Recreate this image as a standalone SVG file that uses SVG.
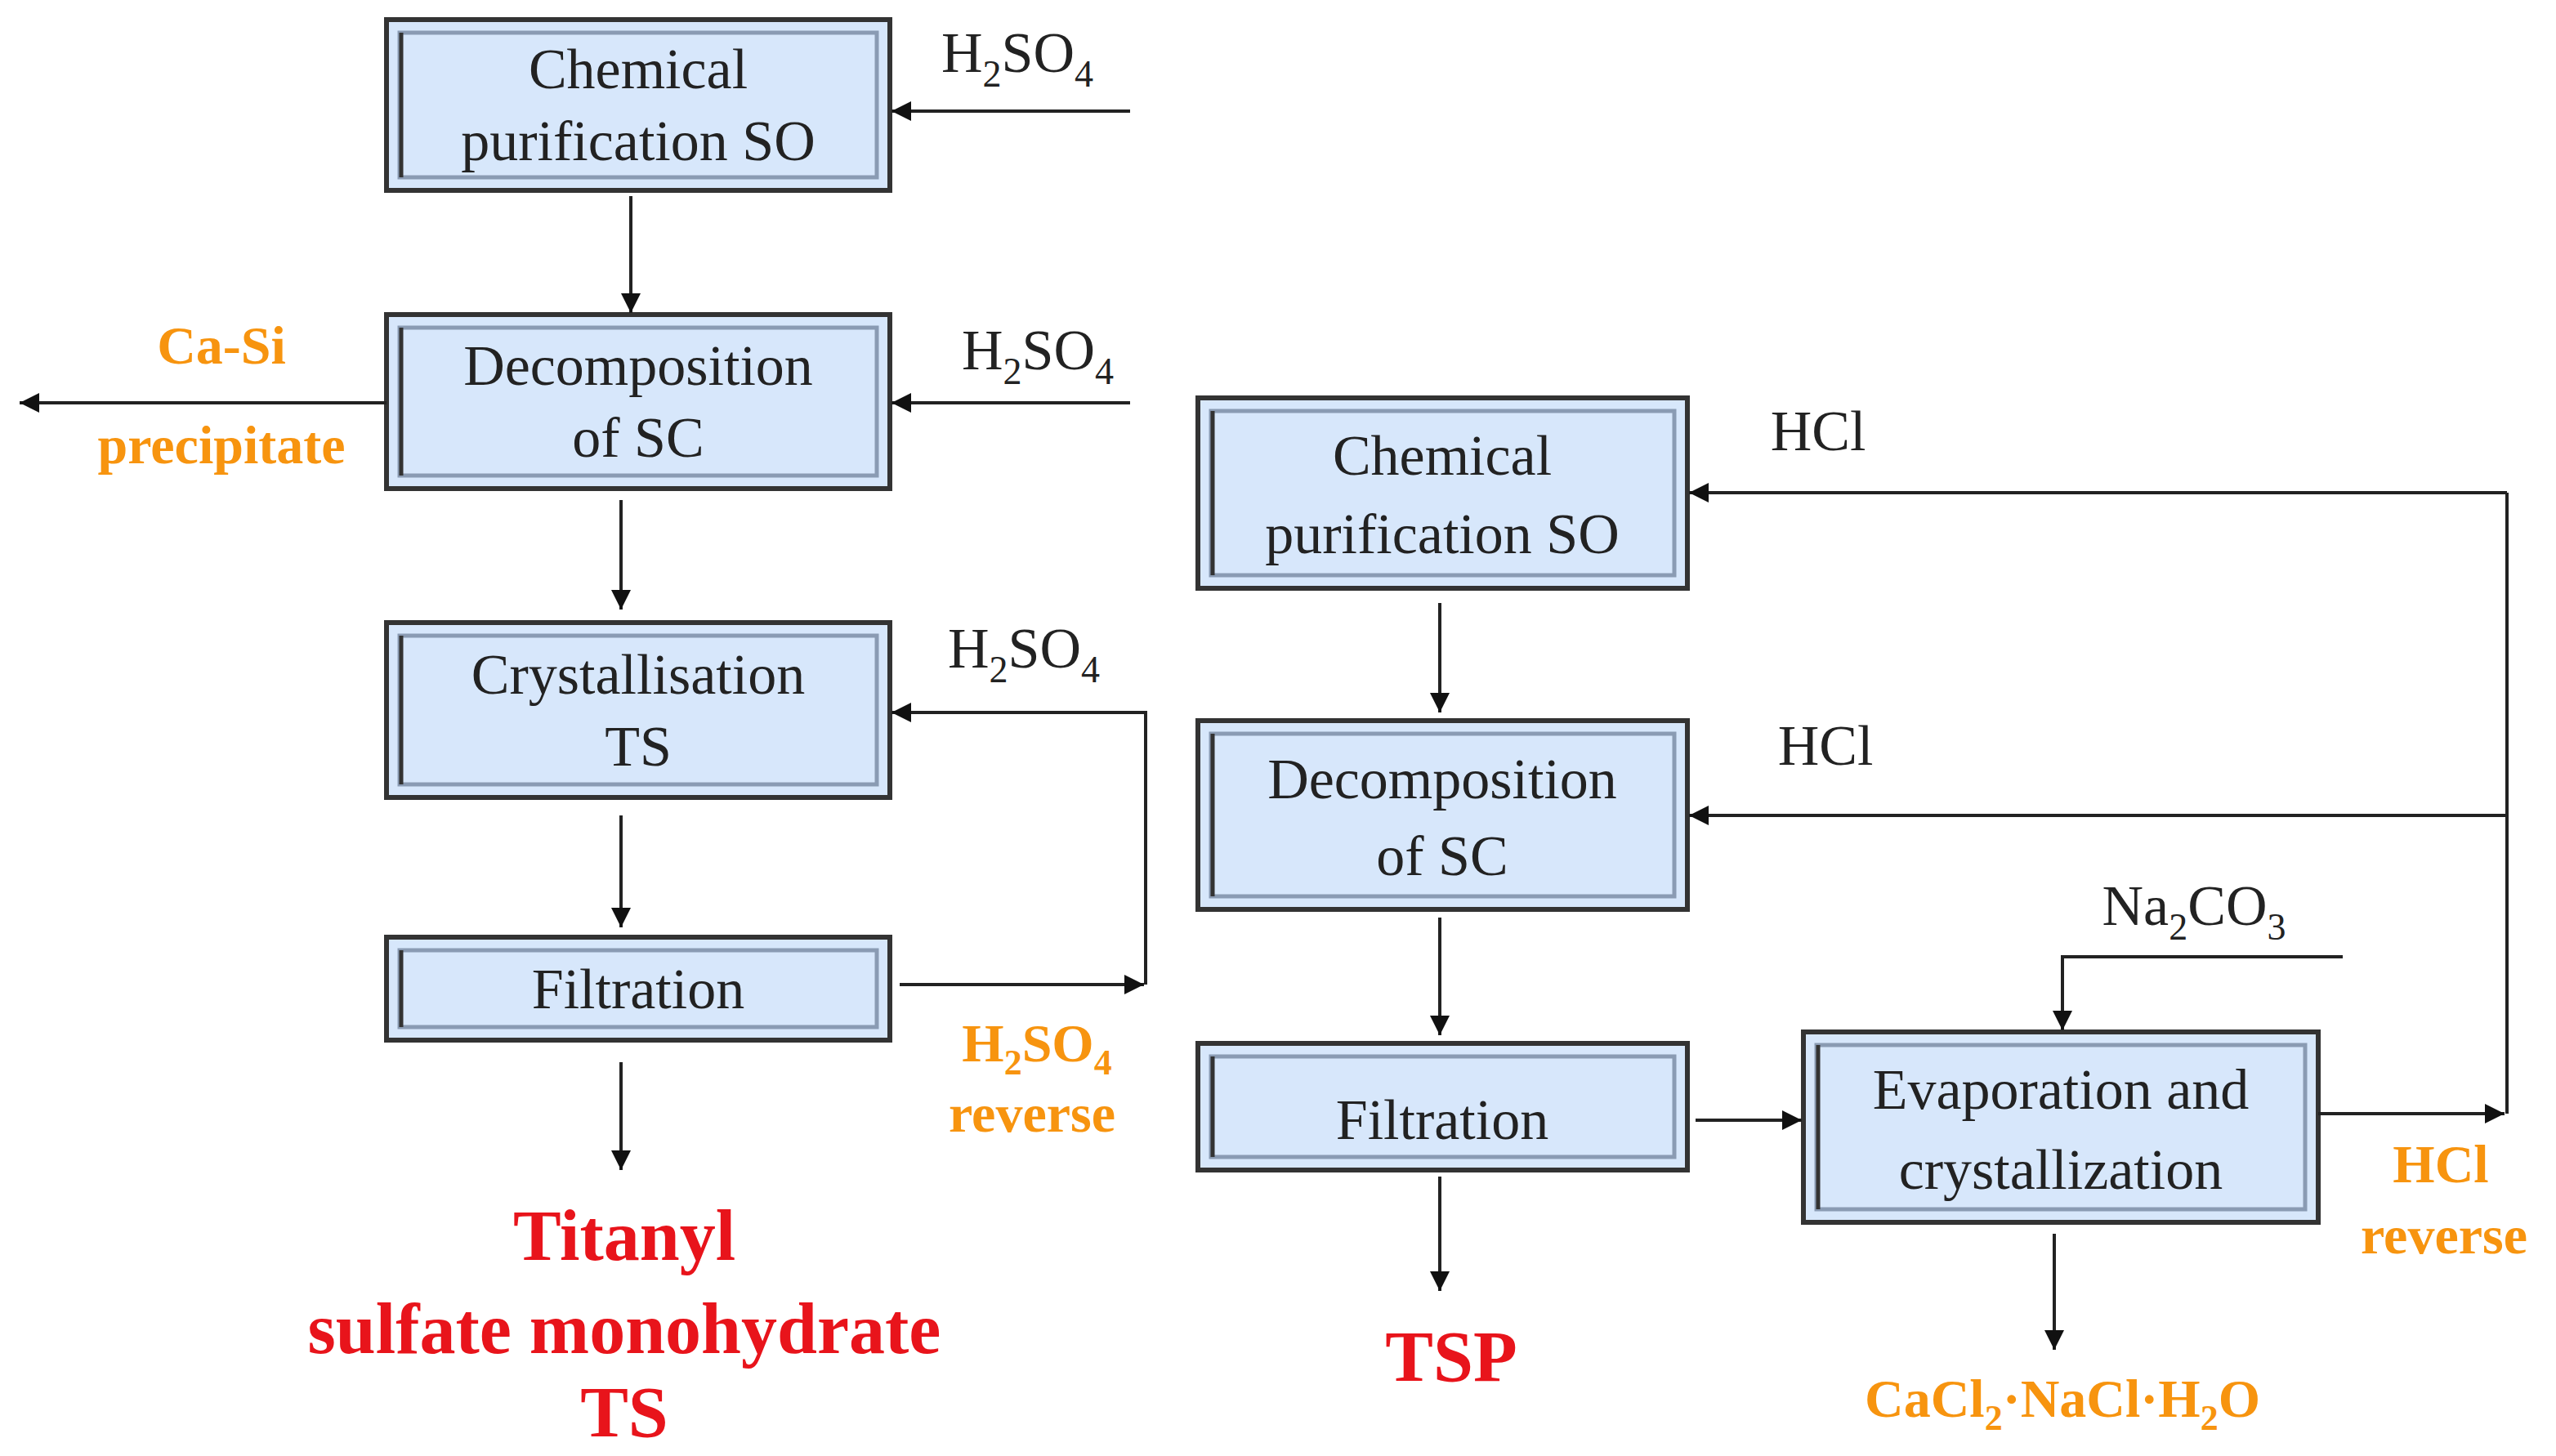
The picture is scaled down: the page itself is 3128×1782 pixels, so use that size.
<svg xmlns="http://www.w3.org/2000/svg" width="3128" height="1782" viewBox="0 0 3128 1782">
<style>
.ob{fill:#d7e7fb;stroke:#333;stroke-width:6}
.ib{fill:#d7e7fb;stroke:#8a9bb3;stroke-width:5}
.il{stroke:#333;stroke-width:5}
.t{font-family:"Liberation Serif",serif;font-size:70px;fill:#222;text-anchor:middle}
.s{font-size:46px}
.c{stroke:#222;stroke-width:4;fill:none}
.o{font-family:"Liberation Serif",serif;font-weight:bold;font-size:66px;fill:#f7940f;text-anchor:middle}
.r{font-family:"Liberation Serif",serif;font-weight:bold;font-size:88px;fill:#e8141b;text-anchor:middle}
</style>
<defs>
<marker id="a" viewBox="0 0 10 10" refX="10" refY="5" markerWidth="6" markerHeight="6" markerUnits="strokeWidth" orient="auto"><path d="M0,0L10,5L0,10z" fill="#111"/></marker>
</defs>
<g id="n1"><rect class="ob" x="473" y="24" width="616" height="209"/><rect class="ib" x="489" y="40" width="584" height="177"/><line class="il" x1="491" y1="40" x2="491" y2="217"/>
<text class="t" x="781" y="108">Chemical</text><text class="t" x="781" y="196">purification SO</text></g>
<g id="n2"><rect class="ob" x="473" y="385" width="616" height="213"/><rect class="ib" x="489" y="401" width="584" height="181"/><line class="il" x1="491" y1="401" x2="491" y2="582"/>
<text class="t" x="781" y="471">Decomposition</text><text class="t" x="781" y="559">of SC</text></g>
<g id="n3"><rect class="ob" x="473" y="762" width="616" height="214"/><rect class="ib" x="489" y="778" width="584" height="182"/><line class="il" x1="491" y1="778" x2="491" y2="960"/>
<text class="t" x="781" y="849">Crystallisation</text><text class="t" x="781" y="937">TS</text></g>
<g id="n4"><rect class="ob" x="473" y="1147" width="616" height="126"/><rect class="ib" x="489" y="1163" width="584" height="94"/><line class="il" x1="491" y1="1163" x2="491" y2="1257"/>
<text class="t" x="781" y="1234">Filtration</text></g>
<g id="n5"><rect class="ob" x="1466" y="487" width="599" height="233"/><rect class="ib" x="1482" y="503" width="567" height="201"/><line class="il" x1="1484" y1="503" x2="1484" y2="704"/>
<text class="t" x="1765" y="581">Chemical</text><text class="t" x="1765" y="677">purification SO</text></g>
<g id="n6"><rect class="ob" x="1466" y="882" width="599" height="231"/><rect class="ib" x="1482" y="898" width="567" height="199"/><line class="il" x1="1484" y1="898" x2="1484" y2="1097"/>
<text class="t" x="1765" y="977">Decomposition</text><text class="t" x="1765" y="1071">of SC</text></g>
<g id="n7"><rect class="ob" x="1466" y="1277" width="599" height="155"/><rect class="ib" x="1482" y="1293" width="567" height="123"/><line class="il" x1="1484" y1="1293" x2="1484" y2="1416"/>
<text class="t" x="1765" y="1394">Filtration</text></g>
<g id="n8"><rect class="ob" x="2207" y="1263" width="630" height="233"/><rect class="ib" x="2223" y="1279" width="598" height="201"/><line class="il" x1="2225" y1="1279" x2="2225" y2="1480"/>
<text class="t" x="2522" y="1357">Evaporation and</text><text class="t" x="2522" y="1455">crystallization</text></g>
<g id="connectors">
<line class="c" x1="772" y1="240" x2="772" y2="383" marker-end="url(#a)"/>
<line class="c" x1="760" y1="612" x2="760" y2="746" marker-end="url(#a)"/>
<line class="c" x1="760" y1="998" x2="760" y2="1135" marker-end="url(#a)"/>
<line class="c" x1="760" y1="1300" x2="760" y2="1432" marker-end="url(#a)"/>
<line class="c" x1="1383" y1="136" x2="1091" y2="136" marker-end="url(#a)"/>
<line class="c" x1="1383" y1="493" x2="1091" y2="493" marker-end="url(#a)"/>
<line class="c" x1="473" y1="493" x2="24" y2="493" marker-end="url(#a)"/>
<line class="c" x1="1101" y1="1205" x2="1400" y2="1205" marker-end="url(#a)"/>
<polyline class="c" points="1402,1205 1402,872 1091,872" marker-end="url(#a)"/>
<line class="c" x1="1762" y1="738" x2="1762" y2="872" marker-end="url(#a)"/>
<line class="c" x1="1762" y1="1123" x2="1762" y2="1267" marker-end="url(#a)"/>
<line class="c" x1="1762" y1="1440" x2="1762" y2="1580" marker-end="url(#a)"/>
<line class="c" x1="2075" y1="1371" x2="2205" y2="1371" marker-end="url(#a)"/>
<line class="c" x1="2837" y1="1363" x2="3065" y2="1363" marker-end="url(#a)"/>
<line class="c" x1="3068" y1="1363" x2="3068" y2="603"/>
<line class="c" x1="3068" y1="603" x2="2067" y2="603" marker-end="url(#a)"/>
<line class="c" x1="3068" y1="998" x2="2067" y2="998" marker-end="url(#a)"/>
<polyline class="c" points="2867,1171 2524,1171 2524,1261" marker-end="url(#a)"/>
<line class="c" x1="2514" y1="1510" x2="2514" y2="1652" marker-end="url(#a)"/>
</g>
<g id="labels">
<text class="t" x="1245" y="88">H<tspan class="s" dy="18">2</tspan><tspan dy="-18">SO</tspan><tspan class="s" dy="18">4</tspan></text>
<text class="t" x="1270" y="452">H<tspan class="s" dy="18">2</tspan><tspan dy="-18">SO</tspan><tspan class="s" dy="18">4</tspan></text>
<text class="t" x="1253" y="817">H<tspan class="s" dy="18">2</tspan><tspan dy="-18">SO</tspan><tspan class="s" dy="18">4</tspan></text>
<text class="t" x="2225" y="551">HCl</text>
<text class="t" x="2234" y="936">HCl</text>
<text class="t" x="2685" y="1132">Na<tspan class="s" dy="18">2</tspan><tspan dy="-18">CO</tspan><tspan class="s" dy="18">3</tspan></text>
<text class="o" x="271" y="445">Ca-Si</text>
<text class="o" x="271" y="567">precipitate</text>
<text class="o" x="1269" y="1299">H<tspan font-size="44" dy="16">2</tspan><tspan dy="-16">SO</tspan><tspan font-size="44" dy="16">4</tspan></text>
<text class="o" x="1263" y="1385">reverse</text>
<text class="o" x="2987" y="1447">HCl</text>
<text class="o" x="2991" y="1534">reverse</text>
<text class="o" x="2524" y="1734">CaCl<tspan font-size="44" dy="16">2</tspan><tspan dy="-16">·NaCl·H</tspan><tspan font-size="44" dy="16">2</tspan><tspan dy="-16">O</tspan></text>
<text class="r" x="764" y="1542">Titanyl</text>
<text class="r" x="764" y="1656">sulfate monohydrate</text>
<text class="r" x="764" y="1758">TS</text>
<text class="r" x="1776" y="1690">TSP</text>
</g>
</svg>
